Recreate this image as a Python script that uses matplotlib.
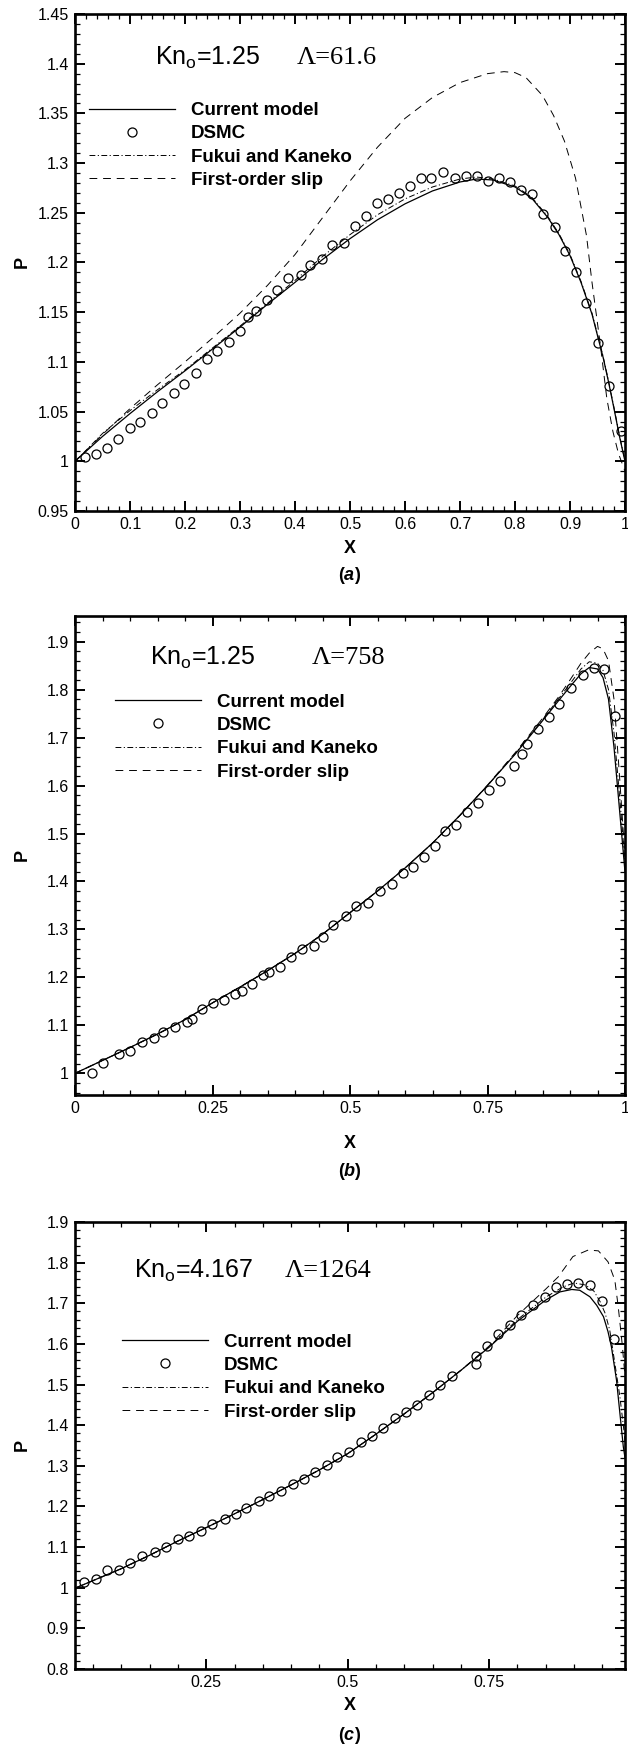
import matplotlib
matplotlib.use("Agg")
import matplotlib.pyplot as plt
from matplotlib.ticker import MultipleLocator, FuncFormatter
from matplotlib.lines import Line2D

plt.rcParams['font.family'] = ['Liberation Sans', 'DejaVu Sans']
plt.rcParams['mathtext.fontset'] = 'custom'
plt.rcParams['mathtext.rm'] = 'Liberation Sans'
plt.rcParams['mathtext.it'] = 'Liberation Sans:italic'
plt.rcParams['mathtext.bf'] = 'Liberation Sans:italic:bold'

W, H = 628, 1745

# ---- (a) Kn=1.25, Lambda=61.6 ----
a_model_x = [0, 0.02, 0.05, 0.1, 0.15, 0.2, 0.25, 0.3, 0.35, 0.4, 0.45, 0.5, 0.55, 0.6, 0.65,
             0.7, 0.73, 0.76, 0.8, 0.83, 0.86, 0.88, 0.9, 0.92, 0.94, 0.96, 0.97, 0.98, 0.99, 1.0]
a_model_p = [1.0, 1.01, 1.025, 1.048, 1.07, 1.091, 1.113, 1.135, 1.158, 1.180, 1.203, 1.224, 1.243,
             1.259, 1.272, 1.281, 1.284, 1.283, 1.276, 1.265, 1.245, 1.228, 1.207, 1.18, 1.148,
             1.105, 1.08, 1.053, 1.025, 1.0]
a_fk_p = [1.0, 1.011, 1.028, 1.051, 1.072, 1.092, 1.114, 1.136, 1.159, 1.182, 1.206, 1.228, 1.248,
          1.264, 1.276, 1.284, 1.286, 1.284, 1.277, 1.266, 1.246, 1.229, 1.208, 1.181, 1.149,
          1.106, 1.081, 1.054, 1.026, 1.0]
a_slip_x = [0, 0.05, 0.1, 0.15, 0.2, 0.25, 0.3, 0.35, 0.4, 0.45, 0.5, 0.55, 0.6, 0.65, 0.7, 0.75,
            0.78, 0.8, 0.82, 0.85, 0.87, 0.89, 0.91, 0.93, 0.94, 0.955, 0.967, 0.978, 0.988, 1.0]
a_slip_p = [1.0, 1.027, 1.053, 1.077, 1.1, 1.124, 1.149, 1.177, 1.208, 1.245, 1.282, 1.316, 1.345,
            1.366, 1.381, 1.39, 1.392, 1.391, 1.386, 1.368, 1.348, 1.322, 1.285, 1.227, 1.18,
            1.118, 1.063, 1.03, 1.008, 0.99]
a_dsmc_x = [0.0175, 0.0379, 0.0583, 0.0787, 0.0991, 0.1188, 0.1392, 0.1589, 0.1793, 0.199, 0.2194,
            0.2398, 0.2587, 0.2792, 0.3003, 0.3149, 0.3294, 0.3499, 0.3673, 0.3878, 0.4111, 0.4264,
            0.4483, 0.4665, 0.4883, 0.5087, 0.5284, 0.5496, 0.5692, 0.5889, 0.6093, 0.6297, 0.648,
            0.6698, 0.6902, 0.7106, 0.7303, 0.7507, 0.7704, 0.790, 0.8112, 0.8309, 0.8513, 0.8724,
            0.8914, 0.9118, 0.9293, 0.9512, 0.9701, 0.9927]
a_dsmc_p = [1.004, 1.0076, 1.013, 1.022, 1.033, 1.040, 1.049, 1.059, 1.069, 1.078, 1.089, 1.103,
            1.111, 1.120, 1.131, 1.145, 1.151, 1.1625, 1.172, 1.184, 1.187, 1.197, 1.204, 1.2177,
            1.2195, 1.2364, 1.2465, 1.2598, 1.2634, 1.270, 1.277, 1.2854, 1.2854, 1.2908, 1.2854,
            1.2872, 1.2872, 1.2818, 1.285, 1.2814, 1.2728, 1.269, 1.249, 1.2357, 1.212, 1.1906,
            1.159, 1.1186, 1.0754, 1.030]

# ---- (b) Kn=1.25, Lambda=758 ----
b_model_x = [0, 0.05, 0.1, 0.15, 0.2, 0.25, 0.3, 0.35, 0.4, 0.45, 0.5, 0.55, 0.6, 0.65, 0.7, 0.75,
             0.8, 0.85, 0.88, 0.9, 0.92, 0.935, 0.95, 0.96, 0.97, 0.98, 0.99, 1.0]
b_model_p = [1.0, 1.027, 1.054, 1.082, 1.112, 1.147, 1.18, 1.214, 1.25, 1.29, 1.335, 1.38, 1.428,
             1.48, 1.538, 1.6, 1.665, 1.735, 1.778, 1.806, 1.833, 1.846, 1.843, 1.825, 1.78, 1.68,
             1.55, 1.42]
b_fk_p = [1.0, 1.027, 1.054, 1.082, 1.112, 1.147, 1.18, 1.214, 1.25, 1.29, 1.335, 1.38, 1.428,
          1.48, 1.538, 1.6, 1.666, 1.737, 1.782, 1.812, 1.843, 1.858, 1.855, 1.84, 1.8, 1.71,
          1.58, 1.44]
b_slip_p = [1.0, 1.027, 1.054, 1.082, 1.112, 1.147, 1.18, 1.214, 1.25, 1.29, 1.335, 1.38, 1.428,
            1.48, 1.538, 1.601, 1.668, 1.74, 1.786, 1.82, 1.855, 1.876, 1.89, 1.885, 1.86, 1.78,
            1.62, 1.45]
b_dsmc_x = [0.0306, 0.051, 0.0802, 0.1006, 0.1224, 0.1443, 0.1603, 0.1822, 0.2041, 0.2128, 0.231,
            0.2507, 0.2711, 0.2915, 0.3032, 0.3222, 0.3411, 0.3528, 0.3732, 0.3936, 0.4133, 0.4337,
            0.4504, 0.4694, 0.4927, 0.5117, 0.5335, 0.5539, 0.5758, 0.5955, 0.6137, 0.6341, 0.6539,
            0.6735, 0.6924, 0.7128, 0.7332, 0.7536, 0.7726, 0.7988, 0.8123, 0.8221, 0.8411, 0.8615,
            0.8805, 0.9023, 0.9242, 0.9431, 0.9621, 0.9825]
b_dsmc_p = [1.0015, 1.0225, 1.0412, 1.0472, 1.0651, 1.0741, 1.0861, 1.0958, 1.1071, 1.1138, 1.1348,
            1.146, 1.152, 1.1655, 1.1722, 1.1857, 1.2059, 1.2111, 1.2216, 1.2418, 1.2583, 1.2665,
            1.285, 1.309, 1.328, 1.348, 1.355, 1.38, 1.395, 1.418, 1.43, 1.452, 1.475, 1.505,
            1.518, 1.545, 1.563, 1.59, 1.61, 1.64, 1.665, 1.686, 1.717, 1.743, 1.77, 1.803,
            1.831, 1.845, 1.843, 1.745]

# ---- (c) Kn=4.167, Lambda=1264 ----
c_model_x = [0.02, 0.1, 0.15, 0.2, 0.25, 0.3, 0.35, 0.4, 0.45, 0.5, 0.55, 0.6, 0.65, 0.7, 0.75,
             0.8, 0.85, 0.875, 0.896, 0.91, 0.928, 0.94, 0.952, 0.96, 0.966, 0.975, 0.981, 0.987,
             0.99]
c_model_p = [1.0, 1.047, 1.08, 1.115, 1.148, 1.182, 1.217, 1.253, 1.29, 1.33, 1.378, 1.428, 1.48,
             1.535, 1.592, 1.656, 1.708, 1.728, 1.734, 1.732, 1.716, 1.695, 1.667, 1.63, 1.593,
             1.511, 1.429, 1.347, 1.32]
c_fk_x = [0.02, 0.1, 0.15, 0.2, 0.25, 0.3, 0.35, 0.4, 0.45, 0.5, 0.55, 0.6, 0.65, 0.7, 0.75,
          0.8, 0.85, 0.88, 0.9, 0.92, 0.935, 0.946, 0.955, 0.963, 0.972, 0.981, 0.988, 0.99]
c_fk_p = [1.0, 1.047, 1.08, 1.115, 1.148, 1.182, 1.217, 1.253, 1.29, 1.33, 1.378, 1.428, 1.48,
          1.535, 1.593, 1.66, 1.715, 1.74, 1.75, 1.745, 1.73, 1.704, 1.675, 1.634, 1.553, 1.47,
          1.388, 1.36]
c_slip_x = [0.02, 0.1, 0.15, 0.2, 0.25, 0.3, 0.35, 0.4, 0.45, 0.5, 0.55, 0.6, 0.65, 0.7, 0.75,
            0.8, 0.85, 0.872, 0.898, 0.925, 0.943, 0.96, 0.972, 0.978, 0.985, 0.99]
c_slip_p = [1.0, 1.047, 1.08, 1.115, 1.148, 1.182, 1.217, 1.253, 1.29, 1.33, 1.378, 1.428, 1.48,
            1.535, 1.595, 1.67, 1.735, 1.765, 1.815, 1.831, 1.829, 1.802, 1.757, 1.692, 1.6, 1.52]
c_dsmc_x = [0.0337, 0.055, 0.0748, 0.0961, 0.116, 0.1365, 0.1592, 0.1791, 0.2004, 0.2202, 0.2408,
            0.2606, 0.2833, 0.3018, 0.3209, 0.3429, 0.3613, 0.3812, 0.4025, 0.4223, 0.4429, 0.4628,
            0.4819, 0.5018, 0.523, 0.5429, 0.5628, 0.5833, 0.6025, 0.6223, 0.6436, 0.6635, 0.6848,
            0.7259, 0.7273, 0.7465, 0.7656, 0.7869, 0.8067, 0.828, 0.8479, 0.868, 0.8875, 0.9075,
            0.9287, 0.9493, 0.970]
c_dsmc_p = [1.0139, 1.0225, 1.0424, 1.0443, 1.0614, 1.0785, 1.0871, 1.0995, 1.1194, 1.128, 1.1403,
            1.1556, 1.1679, 1.1822, 1.1964, 1.2126, 1.225, 1.2373, 1.2554, 1.2677, 1.2858, 1.301,
            1.3229, 1.3343, 1.3581, 1.3742, 1.3923, 1.418, 1.4322, 1.4503, 1.4731, 1.4978, 1.5207,
            1.5501, 1.5701, 1.5939, 1.6243, 1.6462, 1.67, 1.6965, 1.7165, 1.739, 1.7474, 1.7506,
            1.7442, 1.7063, 1.612]

labels = ["Current model", "DSMC", "Fukui and Kaneko", "First-order slip"]

fig = plt.figure(figsize=(W / 100, H / 100), dpi=100)


def px_axes(left, top, right, bottom):
    return fig.add_axes([left / W, 1 - bottom / H, (right - left) / W, (bottom - top) / H])


def fmt(v, pos):
    return "%g" % round(v, 4)


def style(ax, xlim, ylim, xmaj, xmin, ymaj, ymin):
    ax.set_xlim(*xlim)
    ax.set_ylim(*ylim)
    ax.xaxis.set_major_locator(MultipleLocator(xmaj))
    ax.xaxis.set_minor_locator(MultipleLocator(xmin))
    ax.yaxis.set_major_locator(MultipleLocator(ymaj))
    ax.yaxis.set_minor_locator(MultipleLocator(ymin))
    ax.xaxis.set_major_formatter(FuncFormatter(fmt))
    ax.yaxis.set_major_formatter(FuncFormatter(fmt))
    ax.tick_params(which='both', direction='in', top=True, right=True, labelsize=11.5, pad=4.5)
    ax.tick_params(which='major', length=7, width=1.4)
    ax.tick_params(which='minor', length=3.6, width=0.9)
    for s in ax.spines.values():
        s.set_linewidth(1.9)


def draw(ax, mx, mp, fx, fp, sx, sp, dx, dp, leg_x, leg_y):
    ax.plot(mx, mp, color='black', lw=0.9)
    ax.plot(fx, fp, color='black', lw=0.7, dashes=(6, 2.5, 1.2, 2.5))
    ax.plot(sx, sp, color='black', lw=0.7, dashes=(8, 6))
    ax.plot(dx, dp, ls='none', marker='o', ms=6.5, mfc='none', mec='black', mew=0.9)
    handles = [
        Line2D([], [], color='black', lw=0.9),
        Line2D([], [], ls='none', marker='o', ms=6.5, mfc='none', mec='black', mew=0.9),
        Line2D([], [], color='black', lw=0.7, dashes=(6, 2.5, 1.2, 2.5)),
        Line2D([], [], color='black', lw=0.7, dashes=(8, 6)),
    ]
    ax.legend(handles, labels, loc='center left', bbox_to_anchor=(leg_x / W, 1 - leg_y / H),
              bbox_transform=fig.transFigure, frameon=False, borderpad=0, borderaxespad=0,
              handlelength=4.6, handletextpad=0.85, labelspacing=0.33,
              prop={'weight': 'bold', 'size': 13.5})


def annotate(kn, lam, kn_x, lam_x, y):
    fig.text(kn_x / W, 1 - y / H, r"Kn$_{\mathrm{o}}$=" + kn, fontsize=18, ha='left', va='center')
    fig.text(lam_x / W, 1 - y / H, "\u039b=" + lam, fontsize=19, ha='left', va='center',
             family='Liberation Serif')


def axis_labels(ax_mid_y, x_y, tag_y, tag):
    fig.text(22 / W, 1 - ax_mid_y / H, "P", fontsize=13, weight='bold', rotation=90,
             ha='center', va='center')
    fig.text(350 / W, 1 - x_y / H, "X", fontsize=13, weight='bold', ha='center', va='center')
    fig.text(350 / W, 1 - tag_y / H, r"($\mathbf{" + tag + "}$)", fontsize=13, weight='bold',
             ha='center', va='center')


# (a)
ax = px_axes(75, 14, 625, 511)
style(ax, (0, 1), (0.95, 1.45), 0.1, 0.02, 0.05, 0.01)
draw(ax, a_model_x, a_model_p, a_model_x, a_fk_p, a_slip_x, a_slip_p, a_dsmc_x, a_dsmc_p, 89, 145.5)
annotate("1.25", "61.6", 155, 297, 58)
axis_labels(262, 548, 576, "a")

# (b)
ax = px_axes(75, 615.7, 625, 1094.5)
style(ax, (0, 1), (0.956, 1.954), 0.25, 0.05, 0.1, 0.02)
draw(ax, b_model_x, b_model_p, b_model_x, b_fk_p, b_model_x, b_slip_p, b_dsmc_x, b_dsmc_p, 115, 737)
annotate("1.25", "758", 150, 312, 658)
axis_labels(855, 1144, 1172, "b")

# (c)
ax = px_axes(75, 1222, 625, 1669)
style(ax, (0.018, 0.99), (0.8, 1.9), 0.25, 0.05, 0.1, 0.02)
draw(ax, c_model_x, c_model_p, c_fk_x, c_fk_p, c_slip_x, c_slip_p, c_dsmc_x, c_dsmc_p, 122, 1377)
annotate("4.167", "1264", 134, 285, 1271)
axis_labels(1445, 1706, 1735, "c")

fig.savefig("out.png", dpi=100)
